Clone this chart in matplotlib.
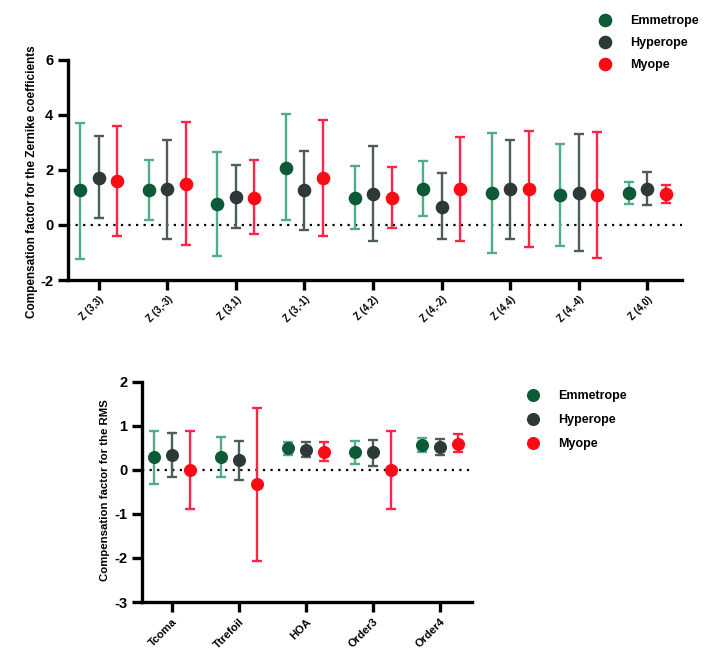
import numpy as np
from matplotlib import pyplot as plt

plt.rcParams['font.family'] = ['Liberation Sans', 'DejaVu Sans']
plt.rcParams['font.weight'] = 'bold'
plt.rcParams['axes.unicode_minus'] = False

# top panel: Zernike coefficients (mean, lower, upper)
zern_labels = ['Z (3,3)', 'Z (3,-3)', 'Z (3,1)', 'Z (3,-1)', 'Z (4,2)',
               'Z (4,-2)', 'Z (4,4)', 'Z (4,-4)', 'Z (4,0)']
zern_emm = [1.26, 1.26, 0.75, 2.08, 0.99, 1.32, 1.15, 1.08, 1.16]
zern_emm_lo = [-1.22, 0.17, -1.14, 0.17, -0.13, 0.33, -1.03, -0.76, 0.78]
zern_emm_hi = [3.72, 2.35, 2.64, 4.04, 2.15, 2.32, 3.33, 2.93, 1.56]
zern_hyp = [1.72, 1.30, 1.03, 1.26, 1.14, 0.67, 1.30, 1.16, 1.32]
zern_hyp_lo = [0.24, -0.52, -0.12, -0.17, -0.59, -0.52, -0.50, -0.96, 0.72]
zern_hyp_hi = [3.24, 3.09, 2.17, 2.68, 2.87, 1.88, 3.09, 3.31, 1.92]
zern_myo = [1.60, 1.50, 0.98, 1.70, 0.99, 1.30, 1.32, 1.08, 1.12]
zern_myo_lo = [-0.40, -0.74, -0.34, -0.40, -0.10, -0.58, -0.79, -1.19, 0.79]
zern_myo_hi = [3.60, 3.75, 2.35, 3.81, 2.10, 3.20, 3.41, 3.39, 1.45]

# bottom panel: RMS
rms_labels = ['Tcoma', 'Ttrefoil', 'HOA', 'Order3', 'Order4']
rms_emm = [0.29, 0.29, 0.49, 0.40, 0.57]
rms_emm_lo = [-0.32, -0.16, 0.35, 0.14, 0.40]
rms_emm_hi = [0.89, 0.75, 0.64, 0.65, 0.73]
rms_hyp = [0.34, 0.22, 0.46, 0.40, 0.53]
rms_hyp_lo = [-0.16, -0.23, 0.29, 0.10, 0.35]
rms_hyp_hi = [0.85, 0.66, 0.64, 0.69, 0.71]
rms_myo = [0.0, -0.32, 0.41, 0.0, 0.59]
rms_myo_lo = [-0.89, -2.06, 0.20, -0.89, 0.40]
rms_myo_hi = [0.89, 1.41, 0.63, 0.89, 0.81]

groups = ['Emmetrope', 'Hyperope', 'Myope']
marker_cols = ['#0c5a38', '#2d3838', '#ff0a14']
bar_cols = ['#4fae86', '#4e5c5c', '#ff2448']
offsets = [-0.27, 0, 0.27]


def draw_panel(ax, labels, series, xmax, ymin, ymax, ystep, ylabel, label_fs, tick_fs, ms):
    x = np.arange(len(labels))
    for k, (m, lo, hi) in enumerate(series):
        m = np.array(m)
        yerr = [m - np.array(lo), np.array(hi) - m]
        ax.errorbar(x + offsets[k], m, yerr=yerr, fmt='none', ecolor=bar_cols[k],
                    elinewidth=1.7, capsize=3.8, capthick=1.7, zorder=2)
        ax.plot(x + offsets[k], m, 'o', color=marker_cols[k], ms=ms, zorder=3,
                label=groups[k], clip_on=False)
    ax.axhline(0, color='black', lw=1.6, ls=(0, (1, 2.4)), zorder=1)
    ax.set_xlim(-0.45, xmax)
    ax.set_ylim(ymin, ymax)
    ax.set_yticks(np.arange(ymin, ymax + 0.1, ystep))
    ax.set_xticks(x)
    ax.set_ylabel(ylabel, fontsize=label_fs, fontweight='bold')
    for s in ['top', 'right']:
        ax.spines[s].set_visible(False)
    for s in ['left', 'bottom']:
        ax.spines[s].set_linewidth(2.4)
    ax.tick_params(width=2.4, length=7)
    ax.tick_params(axis='y', labelsize=10.5)
    ax.set_xticklabels(labels, rotation=45, ha='right', rotation_mode='anchor',
                       fontsize=tick_fs, fontweight='bold')
    for t in ax.get_yticklabels():
        t.set_fontweight('bold')


fig = plt.figure(figsize=(7.05, 6.55), dpi=100)
ax1 = fig.add_axes([0.0965, 0.5725, 0.871, 0.336])
draw_panel(ax1, zern_labels,
           [(zern_emm, zern_emm_lo, zern_emm_hi),
            (zern_hyp, zern_hyp_lo, zern_hyp_hi),
            (zern_myo, zern_myo_lo, zern_myo_hi)],
           8.51, -2, 6, 2, 'Compensation factor for the Zernike coefficients', 8.5, 7, 8.8)
ax1.yaxis.set_label_coords(-0.049, 0.445)
ax1.legend(loc='upper left', bbox_to_anchor=(0.833, 0.994), bbox_transform=fig.transFigure,
           frameon=False, prop={'size': 9, 'weight': 'bold'}, handletextpad=1.5,
           labelspacing=0.8, handlelength=1.0)

ax2 = fig.add_axes([0.2014, 0.0809, 0.468, 0.336])
draw_panel(ax2, rms_labels,
           [(rms_emm, rms_emm_lo, rms_emm_hi),
            (rms_hyp, rms_hyp_lo, rms_hyp_hi),
            (rms_myo, rms_myo_lo, rms_myo_hi)],
           4.48, -3, 2, 1, 'Compensation factor for the RMS', 8.2, 8, 8.4)
ax2.yaxis.set_label_coords(-0.097, 0.51)
ax2.legend(loc='upper left', bbox_to_anchor=(0.731, 0.421), bbox_transform=fig.transFigure,
           frameon=False, prop={'size': 9, 'weight': 'bold'}, handletextpad=1.5,
           labelspacing=0.95, handlelength=1.0)

fig.savefig('out.png', dpi=100)
